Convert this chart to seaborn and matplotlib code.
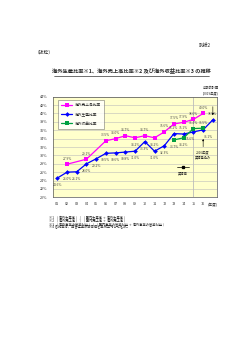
import numpy as np
import pandas as pd
import matplotlib
matplotlib.use("Agg")
import matplotlib.pyplot as plt
import seaborn as sns
from matplotlib.lines import Line2D

# ---------------- data ----------------
tick_labels = ['01', '02', '03', '04', '05', '06', '07', '08', '09', '10',
               '11', '12', '13', '14', '15', '16', '(年度)']

prod_pos = list(range(17))
prod_vals = [24.6, 26.0, 26.1, 28.0, 29.2, 30.5, 30.6, 30.8, 31.0, 33.3,
             31.0, 32.3, 35.2, 35.1, 35.6, 36.1, 38.5]

sales_pos = [1, 3, 5, 6, 7, 8, 9, 10, 11, 12, 13, 14, 15]
sales_vals = [27.9, 29.1, 33.5, 34.0, 34.7, 34.2, 34.7, 34.2, 35.6, 37.5,
              37.9, 38.6, 40.0]

profit_pos = [12, 13, 14, 15]
profit_vals = [33.7, 34.2, 36.4, 36.5]

series_names = ['海外売上高比率', '海外生産比率', '海外収益比率']

# label placement (style only): offsets in points
prod_off = [(0, -5)] * 12 + [(0, 4), (0, 4), (-2, -5), (4, -5), (0, 4)]
sales_off = [(0, 4)] * 5 + [(0, -5), (0, 4), (0, -5)] + [(0, 4)] * 5
profit_off = [(0, -5), (0, -5), (0, 4), (0, 4)]

# ---------------- style ----------------
sns.set_style("white")
plt.rcParams['font.family'] = ['Noto Sans CJK JP', 'DejaVu Sans']

fig = plt.figure(figsize=(2.5, 3.53), dpi=100)
ax = fig.add_axes([0.211, 0.441, 0.656, 0.285])
ax.set_facecolor('#FFFFCC')

c_sales = '#FF00FF'
c_prod = '#0000FF'
c_profit = '#00A040'

df_s = pd.DataFrame({'x': sales_pos, 'y': sales_vals})
df_p = pd.DataFrame({'x': prod_pos, 'y': prod_vals})
df_r = pd.DataFrame({'x': profit_pos, 'y': profit_vals})

sns.lineplot(data=df_s, x='x', y='y', ax=ax, color=c_sales, marker='s',
             markersize=2.4, markeredgewidth=0, linewidth=0.9,
             label=series_names[0])
sns.lineplot(data=df_p, x='x', y='y', ax=ax, color=c_prod, marker='D',
             markersize=2.4, markeredgewidth=0, linewidth=0.9,
             label=series_names[1])
sns.lineplot(data=df_r, x='x', y='y', ax=ax, color=c_profit, marker='s',
             markersize=2.4, markeredgewidth=0, linewidth=0.9,
             label=series_names[2])

def put_labels(xs, ys, offs):
    for x, y, o in zip(xs, ys, offs):
        ax.annotate(f'{y:.1f}%', (x, y), xytext=o, textcoords='offset points',
                    ha='center', va='center', fontsize=2.3, color='#444444')

put_labels(sales_pos, sales_vals, sales_off)
put_labels(prod_pos, prod_vals, prod_off)
put_labels(profit_pos, profit_vals, profit_off)

ax.set_xlim(-0.47, 16.4)
ax.set_ylim(20, 44)
ax.set_yticks(np.arange(20, 45, 2))
ax.set_yticklabels([f'{v}%' for v in range(20, 45, 2)], fontsize=2.7)
ax.set_xticks(range(17))
ax.set_xticklabels(tick_labels, fontsize=2.7)
ax.tick_params(axis='both', length=1.2, width=0.4, pad=2.5, colors='#333333')
ax.set_xlabel('')
ax.set_ylabel('')
ax.grid(axis='y', color='#BBBBBB', linewidth=0.4)
ax.set_axisbelow(True)
for s in ax.spines.values():
    s.set_color('#555555')
    s.set_linewidth(0.5)

# vertical separator
ax.axvline(14, color='#BBBBBB', linewidth=0.6, zorder=1)

# legend
leg = ax.legend(loc='upper left', bbox_to_anchor=(0.02, 0.985), fontsize=2.7,
                frameon=True, fancybox=False, edgecolor='#555555',
                handlelength=3, borderpad=0.8, labelspacing=1.4,
                handletextpad=0.6)
leg.get_frame().set_linewidth(0.4)
leg.get_frame().set_facecolor('white')

# annotations
ax.annotate('', xy=(16, 38.9), xytext=(16, 42.3),
            arrowprops=dict(arrowstyle='-|>', color='black', lw=0.4,
                            mutation_scale=2.5), annotation_clip=False)
fig.text(0.843, 0.750, '中期的計画', fontsize=2.3, ha='center', va='center')
fig.text(0.843, 0.737, '(2019年度)', fontsize=2.3, ha='center', va='center')

ax.annotate('', xy=(15, 34.6), xytext=(15, 31.4),
            arrowprops=dict(arrowstyle='-|>', color='black', lw=0.4,
                            mutation_scale=2.5))
ax.text(15, 30.7, '2016年度', fontsize=2.3, ha='center', va='center')
ax.text(15, 29.5, '実績見込み', fontsize=2.3, ha='center', va='center')

ax.plot([12.3, 13.5], [27.2, 27.2], color='black', lw=0.5)
ax.plot([12.9], [27.2], marker='s', color='black', markersize=1.4)
ax.text(12.9, 25.7, '実績値', fontsize=2.3, ha='center', va='center')

# page texts
fig.text(0.82, 0.873, '別紙2', fontsize=3.4, ha='center', va='center')
fig.text(0.14, 0.853, '（抜粋）', fontsize=3.4, ha='left', va='center')
title = '海外生産比率※1、海外売上高比率※2 及び海外収益比率※3 の推移'
fig.text(0.525, 0.799, title, fontsize=3.8, fontweight='bold',
         ha='center', va='center')
fig.add_artist(Line2D([0.215, 0.835], [0.786, 0.786], color='black', lw=0.4))

notes = [
    '※1 （ 海外生産高 ） / （ 国内生産高 ＋ 海外生産高 ）',
    '※2 （ 海外売上高 ） / （ 国内売上高 ＋ 海外売上高 ）',
    '※3 （ 海外事業の営業利益 ） / （ 国内事業の営業利益 ＋ 海外事業の営業利益 ）',
    '※4 各比率は、回答企業の報告値を単純平均したもの。',
]
for i, n in enumerate(notes):
    fig.text(0.196, 0.384 - i * 0.0095, n, fontsize=2.3, ha='left',
             va='center', color='#222222')

fig.savefig('out.png', dpi=100)
